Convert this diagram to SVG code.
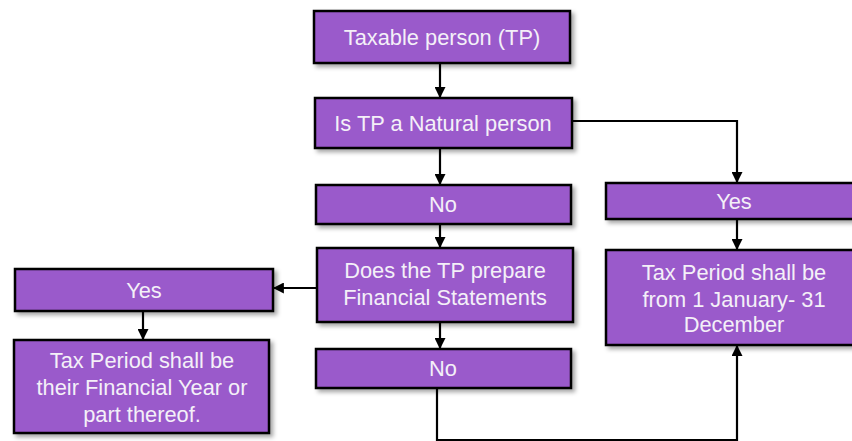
<svg xmlns="http://www.w3.org/2000/svg" width="852" height="441" viewBox="0 0 852 441">
<defs>
<filter id="sh" x="-10%" y="-20%" width="130%" height="160%">
<feDropShadow dx="3" dy="3" stdDeviation="2" flood-color="#000" flood-opacity="0.35"/>
</filter>
<marker id="ah" viewBox="0 0 10 10" refX="9" refY="5" markerWidth="5" markerHeight="5" orient="auto" markerUnits="strokeWidth">
<path d="M0,0 L10,5 L0,10 z" fill="#000"/>
</marker>
<style>
.box{fill:#9a5acb;stroke:#000;stroke-width:2.5;filter:url(#sh)}
.t{font-family:"Liberation Sans",Arial,sans-serif;font-size:22.5px;fill:#f4f0f8;text-anchor:middle;transform-box:fill-box;transform-origin:center;transform:scaleX(0.97)}
.c{fill:none;stroke:#000;stroke-width:2.2;marker-end:url(#ah)}
</style>
</defs>
<rect width="852" height="441" fill="#fff"/>
<g id="connectors">
<path class="c" d="M440,63 V97"/>
<path class="c" d="M440,148 V184"/>
<path class="c" d="M572,121 H737 V182"/>
<path class="c" d="M440,224 V247"/>
<path class="c" d="M317,288 H274"/>
<path class="c" d="M440,322 V348"/>
<path class="c" d="M143,311 V339"/>
<path class="c" d="M737,219 V249"/>
<path class="c" d="M437,388 V440 H737 V346"/>
</g>
<g id="n1"><rect class="box" x="314" y="11" width="256" height="52"/><text class="t" x="442" y="45">Taxable person (TP)</text></g>
<g id="n2"><rect class="box" x="315" y="98" width="257" height="50"/><text class="t" x="443" y="131">Is TP a Natural person</text></g>
<g id="n3"><rect class="box" x="316" y="185" width="255" height="39"/><text class="t" x="443" y="212.5">No</text></g>
<g id="n4"><rect class="box" x="317" y="248" width="256" height="74"/><text class="t" x="445" y="278.5">Does the TP prepare</text><text class="t" x="445" y="305.5">Financial Statements</text></g>
<g id="n5"><rect class="box" x="316" y="349" width="255" height="39"/><text class="t" x="443" y="376.5">No</text></g>
<g id="n6"><rect class="box" x="15" y="269" width="258" height="42"/><text class="t" x="144" y="298">Yes</text></g>
<g id="n7"><rect class="box" x="14" y="340" width="255" height="93"/><text class="t" x="142" y="368.5">Tax Period shall be</text><text class="t" x="142" y="395.5">their Financial Year or</text><text class="t" x="142" y="422.5">part thereof.</text></g>
<g id="n8"><rect class="box" x="606" y="183" width="256" height="36"/><text class="t" x="734" y="209">Yes</text></g>
<g id="n9"><rect class="box" x="606" y="250" width="256" height="95"/><text class="t" x="734" y="280.5">Tax Period shall be</text><text class="t" x="734" y="306.5">from 1 January- 31</text><text class="t" x="734" y="332.5">December</text></g>
</svg>
